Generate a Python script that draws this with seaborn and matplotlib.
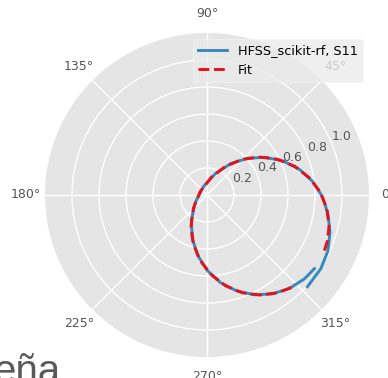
import numpy as np
import matplotlib
matplotlib.use("Agg")
import matplotlib.pyplot as plt
import seaborn as sns

s11_re = [0.796, 0.722, 0.609, 0.482, 0.349, 0.218, 0.100, 0.002, -0.070, -0.110,
          -0.116, -0.087, -0.026, 0.064, 0.177, 0.304, 0.437, 0.568, 0.686, 0.784,
          0.856, 0.896, 0.911, 0.896, 0.843, 0.744]
s11_im = [-0.545, -0.621, -0.693, -0.733, -0.739, -0.710, -0.649, -0.559, -0.446, -0.319,
          -0.186, -0.055, 0.063, 0.161, 0.233, 0.273, 0.279, 0.250, 0.189, 0.099,
          -0.014, -0.141, -0.275, -0.413, -0.546, -0.679]

# Fitted circle: real and imaginary parts
fit_re = [0.625, 0.525, 0.393, 0.261, 0.138, 0.032, -0.050, -0.101, -0.118, -0.101,
          -0.050, 0.032, 0.138, 0.261, 0.393, 0.525, 0.649, 0.754, 0.836, 0.887,
          0.904, 0.893, 0.864]
fit_im = [-0.685, -0.724, -0.741, -0.724, -0.673, -0.591, -0.486, -0.362, -0.230, -0.098,
          0.026, 0.131, 0.213, 0.264, 0.281, 0.264, 0.213, 0.131, 0.026, -0.098,
          -0.230, -0.336, -0.430]

r_ticks = [0.2, 0.4, 0.6, 0.8, 1.0]
series_labels = ["HFSS_scikit-rf, S11", "Fit"]

plt.style.use("ggplot")
plt.rcParams["font.family"] = ["DejaVu Sans"]

s11 = np.array(s11_re) + 1j * np.array(s11_im)
fit = np.array(fit_re) + 1j * np.array(fit_im)

fig = plt.figure(figsize=(3.88, 3.78), dpi=100)
ax = fig.add_axes([45 / 388, 21 / 378, 324 / 388, 324 / 378], projection="polar")
ax.set_facecolor("#E5E5E5")

sns.lineplot(x=np.angle(s11), y=np.abs(s11), ax=ax, sort=False, estimator=None,
             color="#348ABD", lw=2.1, label=series_labels[0])
sns.lineplot(x=np.angle(fit), y=np.abs(fit), ax=ax, sort=False, estimator=None,
             color="#E8101A", lw=2.1, ls="--", label=series_labels[1])

ax.set_ylim(0, 1.2)
ax.set_yticks(r_ticks)
ax.set_yticklabels([f"{t:.1f}" for t in r_ticks])
ax.set_xlabel("")
ax.set_ylabel("")
ax.grid(True, color="white", lw=1.0)
ax.tick_params(axis="both", labelsize=9, colors="#555555")
ax.spines["polar"].set_visible(False)

leg = ax.legend(loc="upper right", fontsize=9.2, handlelength=2.3, framealpha=0.8)
leg.get_frame().set_facecolor("#EBEBEB")
leg.get_frame().set_edgecolor("#F5F5F5")

fig.text(-7 / 388, -5 / 378, "eña", fontsize=29, color="#595959",
         family="Liberation Sans", ha="left", va="baseline")

fig.savefig("out.png", dpi=100)
